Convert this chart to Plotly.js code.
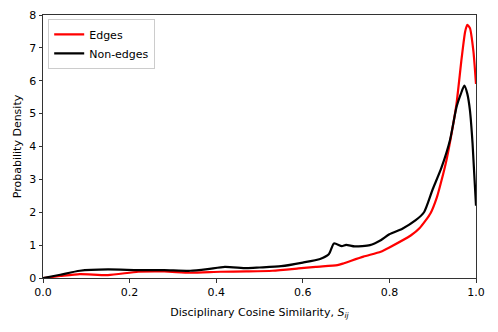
<!DOCTYPE html>
<html>
<head>
<meta charset="utf-8">
<script src="https://cdn.plot.ly/plotly-3.0.1.min.js"></script>
<style>
  html, body { margin: 0; padding: 0; background: #fff; }
  #chart { width: 498px; height: 332px; }
</style>
</head>
<body>
<div id="chart"></div>
<script>
// Kernel density estimates
const edgesX = [0, 0.04, 0.085, 0.15, 0.22, 0.28, 0.34, 0.41, 0.47, 0.53, 0.59, 0.63, 0.68, 0.695, 0.74, 0.78, 0.8, 0.85, 0.87, 0.895, 0.91, 0.92, 0.932, 0.945, 0.955, 0.967, 0.975, 0.98, 0.986, 0.994, 1.0];
const edgesY = [0, 0.06, 0.12, 0.09, 0.19, 0.2, 0.16, 0.19, 0.2, 0.22, 0.29, 0.34, 0.39, 0.45, 0.65, 0.8, 0.93, 1.3, 1.52, 1.97, 2.47, 2.95, 3.6, 4.5, 5.3, 6.7, 7.5, 7.7, 7.6, 6.9, 5.9];

const nonEdgesX = [0, 0.04, 0.085, 0.15, 0.22, 0.28, 0.34, 0.38, 0.42, 0.47, 0.5, 0.55, 0.6, 0.64, 0.66, 0.672, 0.69, 0.7, 0.72, 0.755, 0.78, 0.8, 0.83, 0.86, 0.88, 0.9, 0.92, 0.94, 0.955, 0.965, 0.973, 0.98, 0.986, 0.992, 1.0];
const nonEdgesY = [0, 0.1, 0.22, 0.26, 0.24, 0.24, 0.22, 0.27, 0.34, 0.3, 0.32, 0.36, 0.47, 0.58, 0.72, 1.05, 0.97, 1.01, 0.96, 1.0, 1.15, 1.33, 1.5, 1.75, 2.0, 2.7, 3.35, 4.2, 5.2, 5.6, 5.85, 5.6, 5.1, 4.1, 2.2];

const xTicks = [0, 0.2, 0.4, 0.6, 0.8, 1.0];
const yTicks = [0, 1, 2, 3, 4, 5, 6, 7, 8];

const font = { family: 'DejaVu Sans, sans-serif', size: 11, color: '#000' };

const traces = [
    {
        x: edgesX, y: edgesY,
        type: 'scatter', mode: 'lines',
        name: 'Edges',
        line: { color: '#ff0000', width: 2.2, shape: 'spline', smoothing: 0.6 },
    },
    {
        x: nonEdgesX, y: nonEdgesY,
        type: 'scatter', mode: 'lines',
        name: 'Non-edges',
        line: { color: '#000000', width: 2.2, shape: 'spline', smoothing: 0.6 },
    },
];

const axisBase = {
    showgrid: false,
    zeroline: false,
    showline: true,
    mirror: true,
    linecolor: '#333',
    linewidth: 1,
    ticks: 'outside',
    ticklen: 3.5,
    tickwidth: 1,
    tickcolor: '#333',
    tickfont: font,
};

const layout = {
    width: 498,
    height: 332,
    margin: { l: 43, r: 22, t: 15, b: 54 },
    paper_bgcolor: '#fff',
    plot_bgcolor: '#fff',
    font: font,
    showlegend: true,
    legend: {
        x: 0.012, y: 0.985,
        xanchor: 'left', yanchor: 'top',
        bgcolor: '#fff',
        bordercolor: '#ccc',
        borderwidth: 1,
        font: font,
        tracegroupgap: 0,
    },
    xaxis: Object.assign({}, axisBase, {
        range: [0, 1],
        tickvals: xTicks,
        ticktext: xTicks.map(v => v.toFixed(1)),
        title: { text: 'Disciplinary Cosine Similarity, <i>S<sub>ij</sub></i>', font: font, standoff: 10 },
    }),
    yaxis: Object.assign({}, axisBase, {
        range: [0, 8],
        tickvals: yTicks,
        ticktext: yTicks.map(String),
        title: { text: 'Probability Density', font: font, standoff: 5 },
    }),
};

Plotly.newPlot('chart', traces, layout, { staticPlot: true, displayModeBar: false });
</script>
</body>
</html>
